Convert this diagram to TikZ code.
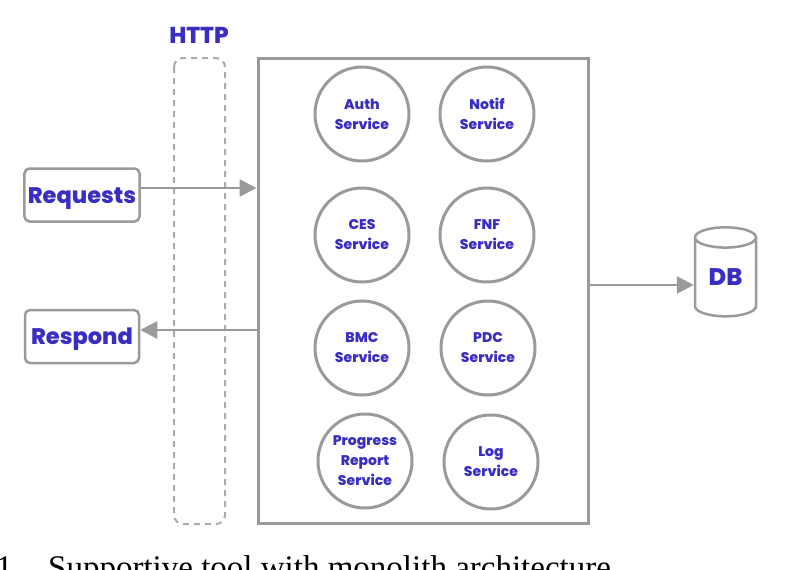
\documentclass[tikz,border=0pt]{standalone}
\usepackage{fontspec}
\newfontfamily\pop{Poppins}[UprightFont={* ExtraBold}]
\newfontfamily\capfont{Liberation Serif}
\usetikzlibrary{shapes.geometric,arrows.meta}
\definecolor{lgray}{HTML}{9A9A9A}
\definecolor{dgray}{HTML}{ABABAB}
\definecolor{tblue}{HTML}{3A2DC2}
\tikzset{
  svc/.style={circle, draw=lgray, line width=3pt, minimum size=94pt, inner sep=0pt, align=center, text=tblue, font=\pop\fontsize{14}{20}\selectfont},
  iobox/.style={draw=lgray, line width=2.5pt, rounded corners=5pt, minimum width=114pt, minimum height=53pt, text height=16pt, text depth=0pt, text=tblue, font=\pop\fontsize{22.5}{24}\selectfont},
  flow/.style={draw=lgray, line width=2.5pt, -{Triangle[length=17pt,width=17pt]}},
}
\begin{document}
\begin{tikzpicture}[x=1pt,y=-1pt]
\useasboundingbox (0,0) rectangle (787,570);
\clip (0,0) rectangle (787,570);
% HTTP lane
\node (httplabel) at (199,35) [text=tblue, font=\pop\fontsize{23}{24}\selectfont] {HTTP};
\draw[dgray, line width=2pt, dash pattern=on 6pt off 5pt, rounded corners=9pt] (174,58) rectangle (225,524);
% main box
\node (main) [draw=lgray, line width=3pt, minimum width=330pt, minimum height=465pt, inner sep=0pt] at (423,290.5) {};
% services
\node (auth) [svc] at (362,114) {Auth\\Service};
\node (notif) [svc] at (487,114) {Notif\\Service};
\node (ces) [svc] at (362,235) {CES\\Service};
\node (fnf) [svc] at (487,235) {FNF\\Service};
\node (bmc) [svc] at (362,348) {BMC\\Service};
\node (pdc) [svc] at (488,348) {PDC\\Service};
\node (prog) [svc] at (365,461) {Progress\\Report\\Service};
\node (logs) [svc] at (491,462) {Log\\Service};
% io boxes
\node (req) [iobox] at (82,195) {Requests};
\node (resp) [iobox] at (82,336.5) {Respond};
% DB
\node (db) [cylinder, shape border rotate=90, aspect=0.6, draw=lgray, line width=2.5pt, minimum width=61pt, minimum height=89pt, inner sep=0pt, text=tblue, font=\pop\fontsize{24}{26}\selectfont] at (725.5,277.5) {DB};
% arrows
\coordinate (reqin) at (main.west |- 0,188);
\coordinate (respout) at (main.west |- 0,330);
\coordinate (dbout) at (main.east |- 0,285);
\draw[flow] (req.east |- 0,188) -- (reqin);
\draw[flow] (respout) -- (resp.east |- 0,330);
\draw[flow] (dbout) -- (db.west |- 0,285);
% caption (cut off in the reference)
\node (capnum) [anchor=base west, inner sep=0pt, font=\capfont\fontsize{33}{35}\selectfont] at (-4,578) {1};
\node (caption) [anchor=base west, inner sep=0pt, font=\capfont\fontsize{33}{35}\selectfont] at (48,578) {Supportive tool with monolith architecture};
\end{tikzpicture}
\end{document}
